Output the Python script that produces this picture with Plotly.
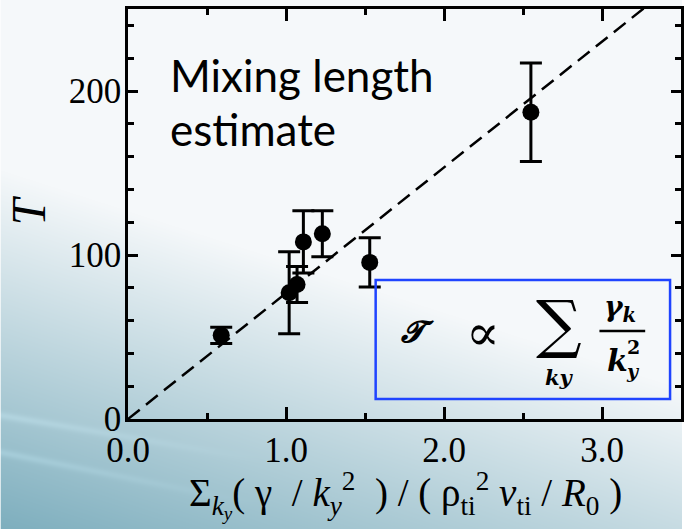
import base64
import struct
import zlib

import numpy as np
import plotly.graph_objects as go

# Measured turbulence time vs. the mixing-length sum
x_vals = [0.59, 1.02, 1.07, 1.11, 1.23, 1.53, 2.55]
t_vals = [51, 77, 82, 108, 113, 95.5, 187]
t_err = [5, 25, 11, 19, 14, 15, 30]

# Proportionality of the mixing-length estimate
slope = 76.7
fit_x = [0.0, 3.5]
fit_y = [slope * v for v in fit_x]

x_ticks = [0, 1, 2, 3]
y_ticks = [0, 100, 200]

W, H = 685, 529
ML, MR, MT, MB = 128, 1, 9, 110


def png_data_uri(rgb):
    h, w, _ = rgb.shape
    raw = b"".join(b"\x00" + rgb[r].tobytes() for r in range(h))

    def chunk(tag, data):
        c = struct.pack(">I", len(data)) + tag + data
        return c + struct.pack(">I", zlib.crc32(tag + data) & 0xFFFFFFFF)

    png = b"\x89PNG\r\n\x1a\n"
    png += chunk(b"IHDR", struct.pack(">IIBBBBB", w, h, 8, 2, 0, 0, 0))
    png += chunk(b"IDAT", zlib.compress(raw, 9))
    png += chunk(b"IEND", b"")
    return "data:image/png;base64," + base64.b64encode(png).decode()


# Slide-style backdrop: pale top fading to teal at the lower left
yy, xx = np.mgrid[0:H, 0:W].astype(float)
s = np.clip((yy - (170 + 0.32 * xx)) / 400.0, 0, 1)
light = np.array([245, 248, 250], float)
dark = np.array([112, 166, 183], float)
img = light[None, None, :] * (1 - s[..., None]) + dark[None, None, :] * s[..., None]
for y0, k in [(415, 0.17), (452, 0.2)]:
    band = np.exp(-((yy - (y0 + k * xx)) / 4.0) ** 2) * np.clip(1 - xx / 260, 0, 1)
    img += 14 * band[..., None]
img = np.clip(img, 0, 255).astype(np.uint8)
bg_uri = png_data_uri(img)

pw, ph = W - ML - MR, H - MT - MB


def px(xp):
    return (xp - ML) / pw


def py(yp):
    return (H - MB - yp) / ph


fig = go.Figure()

fig.add_trace(go.Scatter(
    x=fit_x, y=fit_y, mode="lines",
    line=dict(color="black", width=2.5, dash="15px,8px"),
    hoverinfo="skip", showlegend=False,
))

fig.add_trace(go.Scatter(
    x=x_vals, y=t_vals, mode="markers",
    marker=dict(color="black", size=17, symbol="circle"),
    error_y=dict(type="data", array=t_err, visible=True,
                 color="black", thickness=3, width=11),
    showlegend=False,
))

serif = "Liberation Serif"
axis_common = dict(
    showline=True, linecolor="black", linewidth=2.5, mirror="allticks",
    ticks="inside", tickcolor="black", tickwidth=2.5,
    showgrid=False, zeroline=False,
    tickfont=dict(family=serif, size=35, color="black"),
)

fig.update_xaxes(
    range=[0, 3.5], tickvals=x_ticks, tickformat=".1f", ticklen=12,
    minor=dict(dtick=0.5, ticks="inside", ticklen=6, tickwidth=2.5,
               tickcolor="black", showgrid=False),
    ticklabelstandoff=-2,
    **axis_common,
)
fig.update_yaxes(
    range=[0, 250], tickvals=y_ticks, ticklen=10,
    minor=dict(dtick=20, ticks="inside", ticklen=6, tickwidth=2.5,
               tickcolor="black", showgrid=False),
    ticklabelstandoff=-3,
    **axis_common,
)

annotations = [
    # y-axis title
    dict(x=px(27), y=py(211), text="<i>T</i>", textangle=-90,
         font=dict(family=serif, size=48, color="black")),
    # x-axis title
    dict(x=px(407), y=py(495),
         text=("Σ<sub><i>k</i><sub><i>y</i></sub></sub>( γ  / <i>k</i><sub><i>y</i></sub><sup>2</sup>  )"
               " / ( ρ<sub>ti</sub><sup>2</sup> <i>v</i><sub>ti</sub> / <i>R</i><sub>0</sub> )"),
         font=dict(family=serif, size=39, color="black")),
    # label
    dict(x=px(168), y=py(75), xanchor="left", text="Mixing length",
         font=dict(family="Lato", size=44, color="black")),
    dict(x=px(168), y=py(129), xanchor="left", text="estimate",
         font=dict(family="Lato", size=44, color="black")),
    # formula in the box
    dict(x=px(420), y=py(331), text="<b><i>𝓣</i></b>",
         font=dict(family="DejaVu Serif", size=30, color="black")),
    dict(x=px(485), y=py(333), text="∝",
         font=dict(family="DejaVu Serif", size=50, color="black")),
    dict(x=px(561), y=py(324), text="∑",
         font=dict(family="DejaVu Serif", size=64, color="black")),
    dict(x=px(562), y=py(377), text="<b><i>ky</i></b>",
         font=dict(family="DejaVu Serif", size=21, color="black")),
    dict(x=px(623), y=py(308), text="<b><i>γ<sub>k</sub></i></b>",
         font=dict(family="DejaVu Serif", size=28, color="black")),
    dict(x=px(620), y=py(360), text="<b><i>k</i></b>",
         font=dict(family="DejaVu Serif", size=30, color="black")),
    dict(x=px(636), y=py(371), text="<b><i>y</i></b>",
         font=dict(family="DejaVu Serif", size=19, color="black")),
    dict(x=px(636), y=py(347), text="<b>2</b>",
         font=dict(family="DejaVu Serif", size=19, color="black")),
]
for a in annotations:
    a.setdefault("xref", "paper")
    a.setdefault("yref", "paper")
    a.setdefault("xanchor", "center")
    a.setdefault("yanchor", "middle")
    a.setdefault("showarrow", False)

shapes = [
    dict(type="rect", xref="paper", yref="paper",
         x0=px(377), x1=px(673), y0=py(399), y1=py(280),
         line=dict(color="#1f44ff", width=2.5)),
    dict(type="line", xref="paper", yref="paper",
         x0=px(602), x1=px(648), y0=py(331), y1=py(331),
         line=dict(color="black", width=2.5)),
]

fig.update_layout(
    width=W, height=H,
    margin=dict(l=ML, r=MR, t=MT, b=MB),
    paper_bgcolor="rgba(0,0,0,0)",
    plot_bgcolor="rgba(0,0,0,0)",
    annotations=annotations,
    shapes=shapes,
    images=[dict(source=bg_uri, xref="paper", yref="paper",
                 x=px(0), y=py(0), sizex=W / pw, sizey=H / ph,
                 xanchor="left", yanchor="top", sizing="stretch",
                 layer="below")],
)

fig.write_html("out.html")
